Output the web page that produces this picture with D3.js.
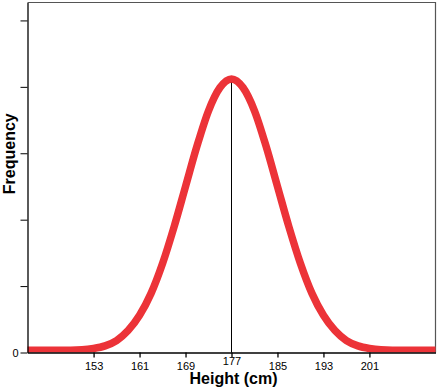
<!DOCTYPE html>
<html>
<head>
<meta charset="utf-8">
<script src="https://cdn.jsdelivr.net/npm/d3@7"></script>
<style>
  body { margin: 0; background: #fff; }
  svg { display: block; font-family: "Liberation Sans", Arial, sans-serif; }
</style>
</head>
<body>
<div id="chart"></div>
<script>
// data
const heights = [141, 143, 145, 147, 149, 151, 153, 155, 157, 159, 161, 163, 165, 167, 169, 171, 173, 175, 177,
                 179, 181, 183, 185, 187, 189, 191, 193, 195, 197, 199, 201, 203, 205, 207, 209, 211, 213];
const frequency = [0.035, 0.035, 0.035, 0.035, 0.035, 0.04, 0.06, 0.10, 0.18, 0.33, 0.56, 0.89, 1.34, 1.89, 2.50, 3.11, 3.64, 3.99, 4.12,
                   3.99, 3.64, 3.11, 2.50, 1.89, 1.34, 0.89, 0.56, 0.33, 0.18, 0.10, 0.06, 0.04, 0.035, 0.035, 0.035, 0.035, 0.035];
const xTicks = [153, 161, 169, 177, 185, 193, 201];
const yTicks = [0, 1, 2, 3, 4, 5];
const meanHeight = 177;

const data = heights.map((h, i) => ({ h: h, f: frequency[i] }));

const W = 441, H = 391;
const margin = { top: 2.5, right: 5.5, bottom: 38.5, left: 27.5 };
const width = W - margin.left - margin.right;
const height = H - margin.top - margin.bottom;

const svg = d3.select('#chart').append('svg')
    .attr('width', W)
    .attr('height', H);

const g = svg.append('g')
    .attr('transform', `translate(${margin.left},${margin.top})`);

const x = d3.scaleLinear().domain([141.5, 212.5]).range([0, width]);
const y = d3.scaleLinear().domain([0, 5.27]).range([height, 0]);

g.append('clipPath').attr('id', 'plot')
    .append('rect').attr('width', width).attr('height', height);

// frame (top and right)
g.append('path')
    .attr('d', `M0,0H${width}V${height}`)
    .attr('fill', 'none')
    .attr('stroke', '#555')
    .attr('stroke-width', 1.2);

// mean line
g.append('line')
    .attr('x1', x(meanHeight)).attr('x2', x(meanHeight))
    .attr('y1', y(d3.max(frequency))).attr('y2', y(0))
    .attr('stroke', '#000')
    .attr('stroke-width', 1);

// the curve
const line = d3.line()
    .x(d => x(d.h))
    .y(d => y(d.f))
    .curve(d3.curveMonotoneX);

g.append('path')
    .datum(data)
    .attr('clip-path', 'url(#plot)')
    .attr('fill', 'none')
    .attr('stroke', '#EC3338')
    .attr('stroke-width', 7.5)
    .attr('stroke-linejoin', 'round')
    .attr('d', line);

// x axis
const xAxis = g.append('g')
    .attr('transform', `translate(0,${height})`)
    .call(d3.axisBottom(x).tickValues(xTicks).tickSize(5).tickSizeOuter(0));
xAxis.select('.domain').attr('stroke', '#000').attr('stroke-width', 1.3);
xAxis.selectAll('.tick line').attr('stroke-width', 1.3);
xAxis.selectAll('.tick text')
    .attr('font-size', 11)
    .attr('fill', '#000')
    .attr('dy', null)
    .attr('y', d => d === meanHeight ? 12 : 17);

// y axis
const yAxis = g.append('g')
    .call(d3.axisLeft(y).tickValues(yTicks).tickSize(7).tickSizeOuter(0)
        .tickFormat(d => d === 0 ? '0' : ''));
yAxis.select('.domain').attr('stroke', '#000').attr('stroke-width', 1.3);
yAxis.selectAll('.tick text')
    .attr('font-size', 11)
    .attr('fill', '#000')
    .attr('x', -9);

// axis titles
svg.append('text')
    .attr('x', margin.left + x(meanHeight) + 2)
    .attr('y', 384)
    .attr('text-anchor', 'middle')
    .attr('font-size', 16)
    .attr('font-weight', 'bold')
    .text('Height (cm)');

svg.append('text')
    .attr('transform', `translate(15,${margin.top + y(3) + 0.5}) rotate(-90)`)
    .attr('text-anchor', 'middle')
    .attr('font-size', 16)
    .attr('font-weight', 'bold')
    .text('Frequency');
</script>
</body>
</html>
